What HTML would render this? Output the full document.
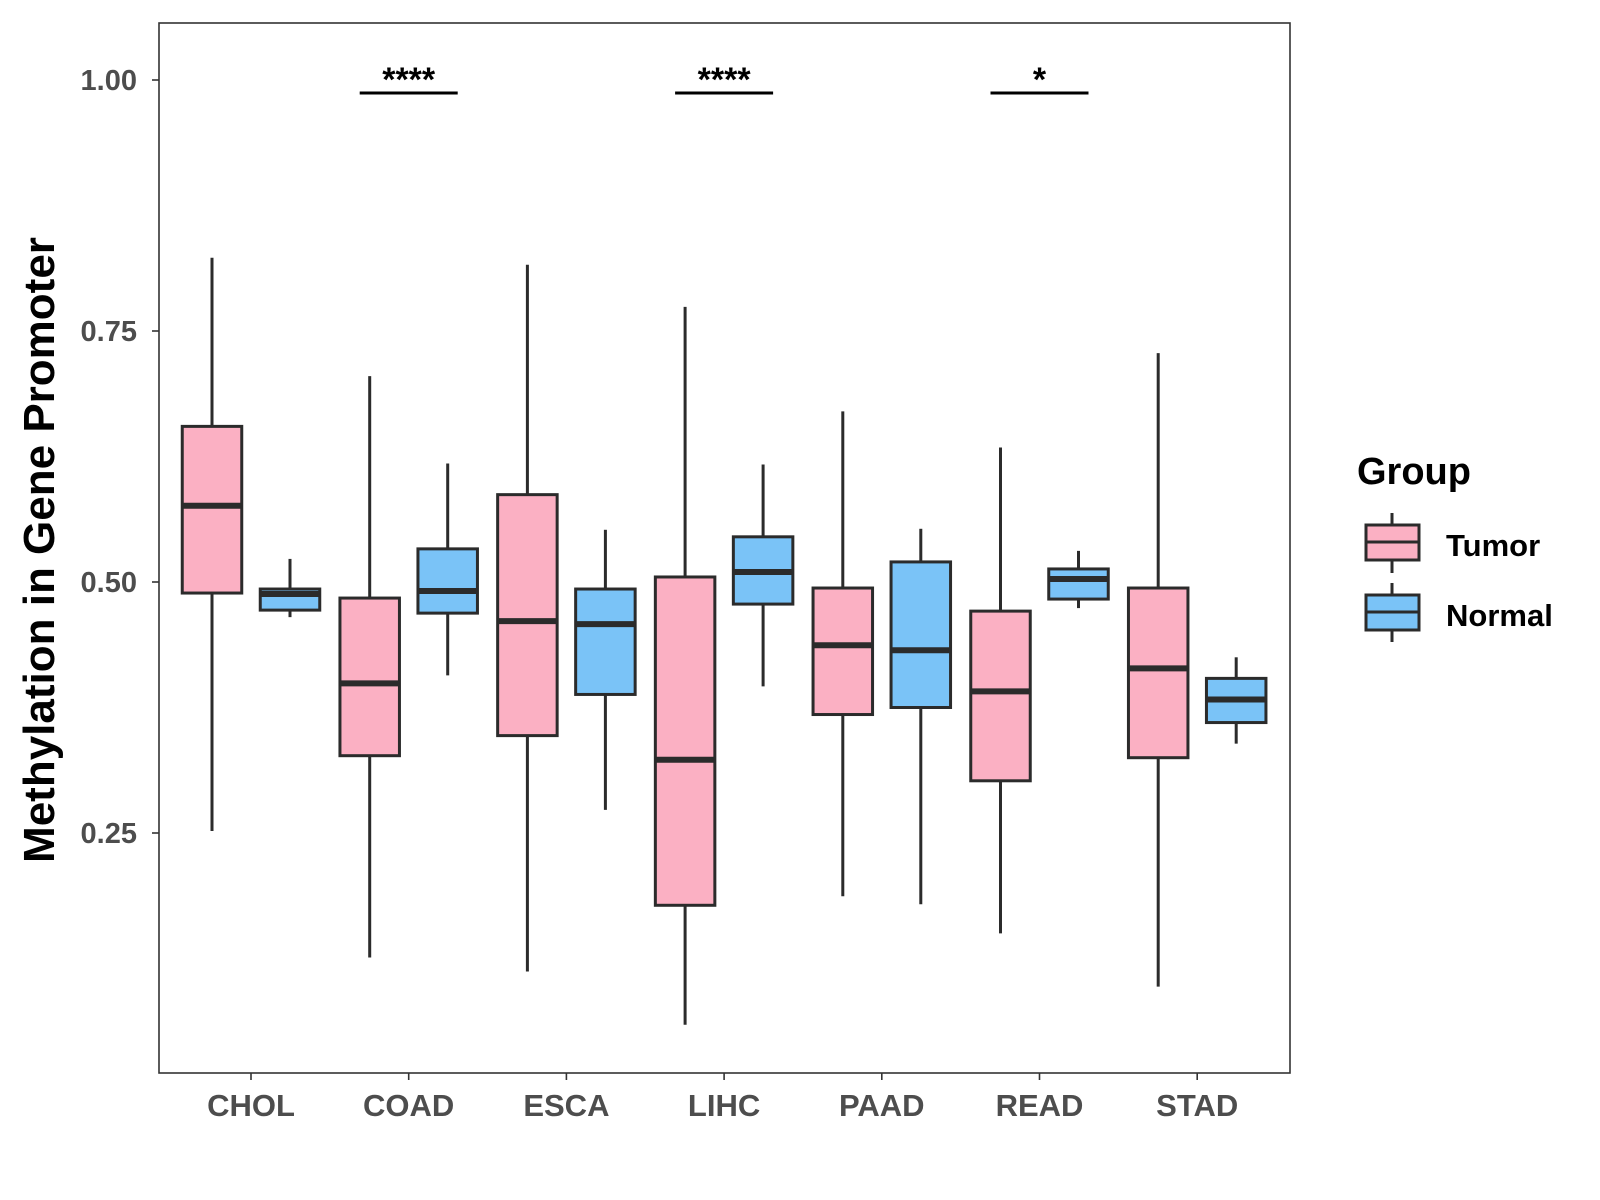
<!DOCTYPE html>
<html><head><meta charset="utf-8"><style>
html,body{margin:0;padding:0;background:#fff;}
svg{display:block;font-family:"Liberation Sans",Arial,sans-serif;font-weight:bold;}
</style></head><body>
<svg id="chart" width="1600" height="1200" viewBox="0 0 1600 1200" xmlns="http://www.w3.org/2000/svg">
<rect x="0" y="0" width="1600" height="1200" fill="#fff"/>
<rect x="159" y="23" width="1131" height="1050" fill="#fff" stroke="#333" stroke-width="1.6"/>
<g id="axes"></g>
<g id="boxes"></g>
<g id="sig"></g>
<text transform="translate(54,550) rotate(-90)" text-anchor="middle" font-size="44" fill="#000">Methylation in Gene Promoter</text>
<g>
<text x="1357" y="484" font-size="38" fill="#000">Group</text>
<g>
<line x1="1392" y1="513" x2="1392" y2="573" stroke="#2b2b2b" stroke-width="3"/>
<rect x="1366" y="525" width="53" height="35" fill="#FBB0C3" stroke="#2b2b2b" stroke-width="3"/>
<line x1="1366" y1="542" x2="1419" y2="542" stroke="#2b2b2b" stroke-width="3"/>
<text x="1446" y="556" font-size="31" fill="#000">Tumor</text>
</g>
<g>
<line x1="1392" y1="583" x2="1392" y2="642" stroke="#2b2b2b" stroke-width="3"/>
<rect x="1366" y="595" width="53" height="35" fill="#7AC3F7" stroke="#2b2b2b" stroke-width="3"/>
<line x1="1366" y1="612" x2="1419" y2="612" stroke="#2b2b2b" stroke-width="3"/>
<text x="1446" y="626" font-size="31" fill="#000">Normal</text>
</g>
</g>
</svg>
<script>
const categories = ["CHOL","COAD","ESCA","LIHC","PAAD","READ","STAD"];
const tumorLow = [0.252,0.126,0.112,0.059,0.187,0.150,0.097];
const tumorQ1  = [0.489,0.327,0.347,0.178,0.368,0.302,0.325];
const tumorMed = [0.576,0.399,0.461,0.323,0.437,0.391,0.414];
const tumorQ3  = [0.655,0.484,0.587,0.505,0.494,0.471,0.494];
const tumorHigh= [0.823,0.705,0.816,0.774,0.670,0.634,0.728];
const normalLow = [0.465,0.407,0.273,0.396,0.179,0.474,0.339];
const normalQ1  = [0.472,0.469,0.388,0.478,0.375,0.483,0.360];
const normalMed = [0.488,0.491,0.458,0.510,0.432,0.503,0.383];
const normalQ3  = [0.493,0.533,0.493,0.545,0.520,0.513,0.404];
const normalHigh= [0.523,0.618,0.552,0.617,0.553,0.531,0.425];
const yTicks = [0.25,0.50,0.75,1.00];
const yTickLabels = ["0.25","0.50","0.75","1.00"];
const sigCategories = ["COAD","LIHC","READ"];
const sigLabels = ["****","****","*"];
const sigLevel = 0.987;

const NS="http://www.w3.org/2000/svg";
function y(v){return 833 + (0.25 - v) * (753/0.75);}
function x(i){return 251 + i * 157.7;}
function mk(tag, attrs, parent){const e=document.createElementNS(NS,tag);for(const k in attrs)e.setAttribute(k,attrs[k]);parent.appendChild(e);return e;}
const axes=document.getElementById('axes'), boxes=document.getElementById('boxes'), sig=document.getElementById('sig');

yTicks.forEach((t,i)=>{
  const tk=mk('line',{x1:152,x2:159,y1:y(t),y2:y(t),stroke:'#333','stroke-width':1.6},axes);
  
  
  const lb=mk('text',{x:137,y:y(t)+10,'text-anchor':'end','font-size':29,fill:'#4d4d4d'},axes);
  lb.textContent=yTickLabels[i];
  
  
});
categories.forEach((c,i)=>{
  const tk=mk('line',{x1:x(i),x2:x(i),y1:1073,y2:1080,stroke:'#333','stroke-width':1.6},axes);
  
  
  const lb=mk('text',{x:x(i),y:1116,'text-anchor':'middle','font-size':31,fill:'#4d4d4d'},axes);
  lb.textContent=c;
  
  
});
function drawBox(cx, lo,q1,md,q3,hi, fill, name){
  const g=mk('g',{},boxes);
  
  
  const w=59.5;
  mk('line',{x1:cx,x2:cx,y1:y(hi),y2:y(q3),stroke:'#2b2b2b','stroke-width':3},g);
  mk('line',{x1:cx,x2:cx,y1:y(q1),y2:y(lo),stroke:'#2b2b2b','stroke-width':3},g);
  mk('rect',{x:cx-w/2,y:y(q3),width:w,height:y(q1)-y(q3),fill:fill,stroke:'#2b2b2b','stroke-width':3},g);
  mk('line',{x1:cx-w/2,x2:cx+w/2,y1:y(md),y2:y(md),stroke:'#2b2b2b','stroke-width':6},g);
}
categories.forEach((c,i)=>{
  drawBox(x(i)-39,tumorLow[i],tumorQ1[i],tumorMed[i],tumorQ3[i],tumorHigh[i],'#FBB0C3','box-tumor-'+c.toLowerCase());
  drawBox(x(i)+39,normalLow[i],normalQ1[i],normalMed[i],normalQ3[i],normalHigh[i],'#7AC3F7','box-normal-'+c.toLowerCase());
});
sigCategories.forEach((c,j)=>{
  const i=categories.indexOf(c);
  const ln=mk('line',{x1:x(i)-49,x2:x(i)+49,y1:y(sigLevel),y2:y(sigLevel),stroke:'#000','stroke-width':3},sig);
  
  
  const t=mk('text',{x:x(i),y:y(sigLevel)-2,'text-anchor':'middle','font-size':34,fill:'#000'},sig);
  t.textContent=sigLabels[j];
  
  
});
</script>
</body></html>
